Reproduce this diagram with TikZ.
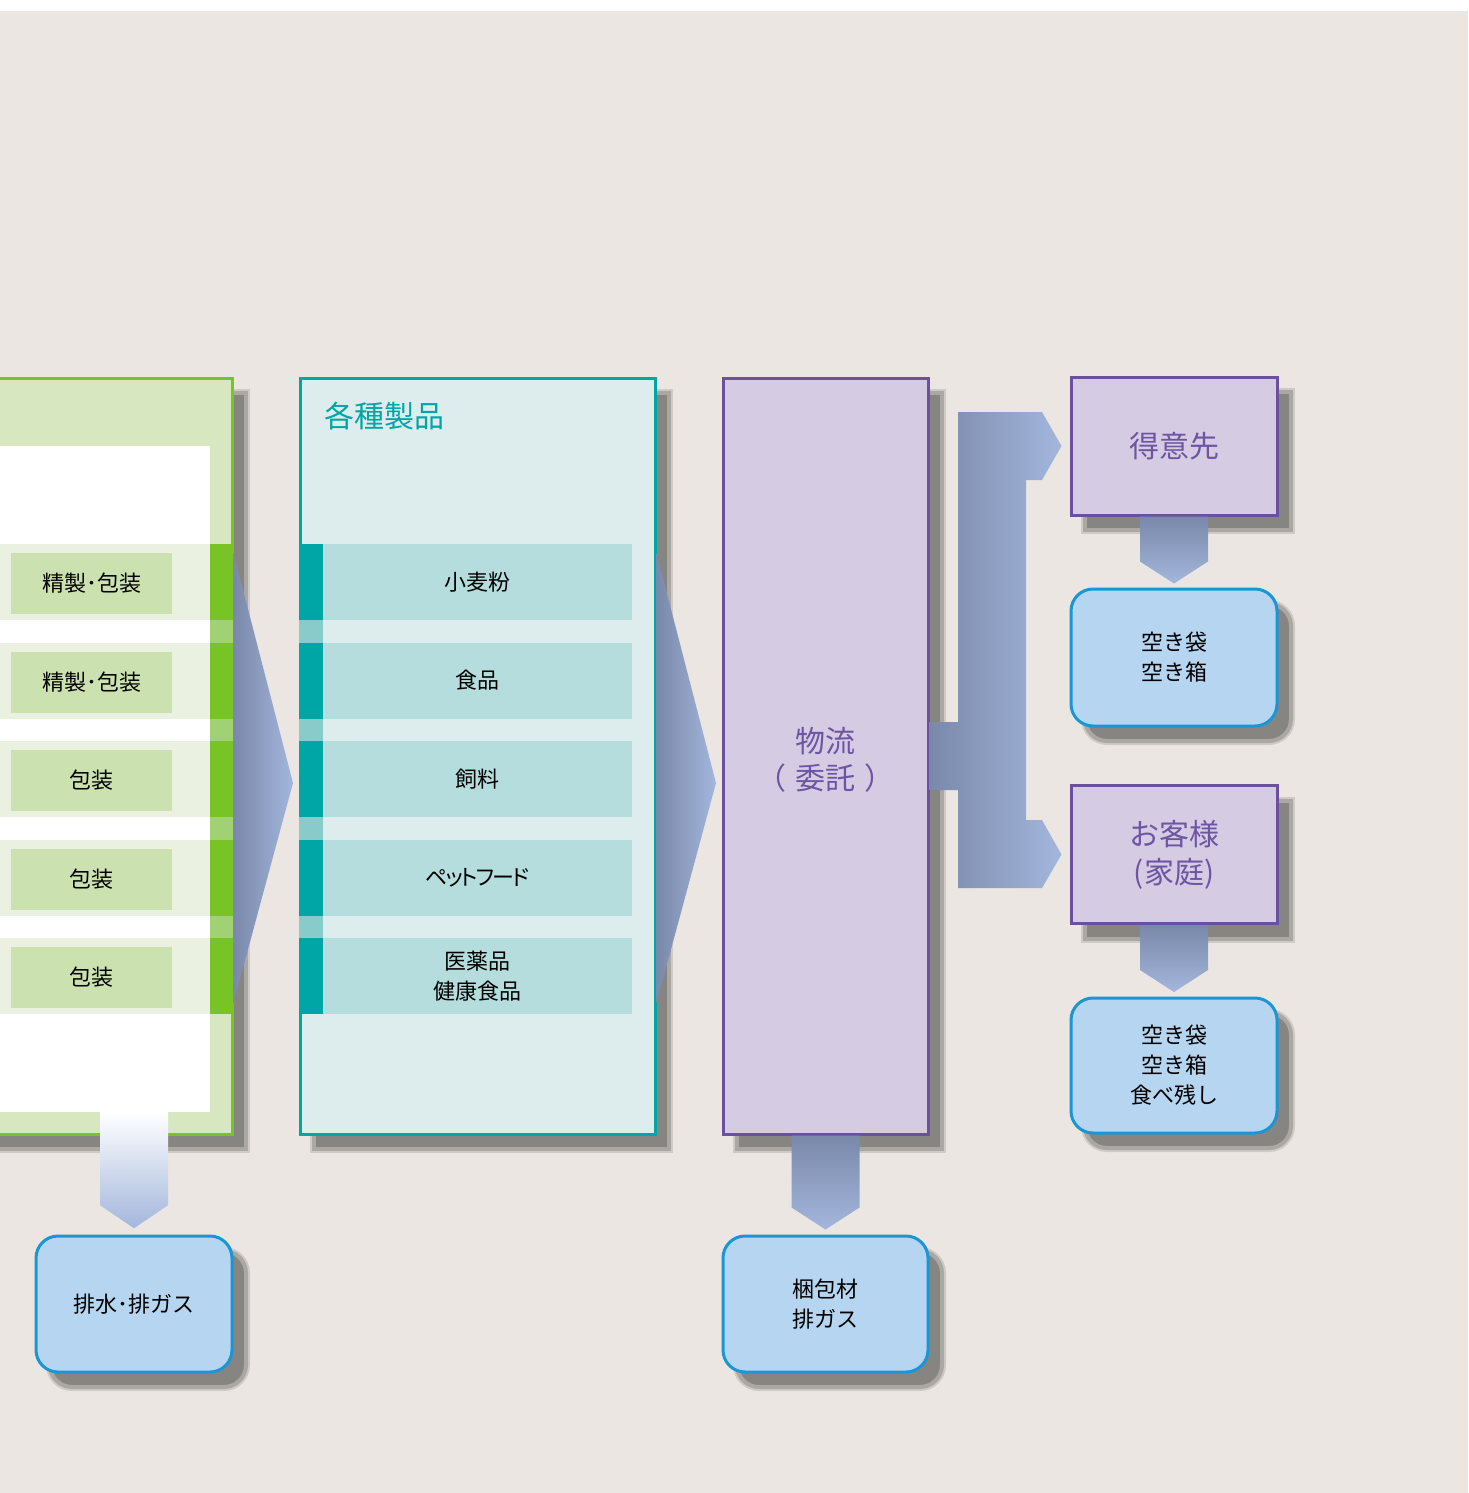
\documentclass[tikz,border=0pt]{standalone}
\usepackage{fontspec}
\setmainfont{Noto Sans CJK JP}
\usetikzlibrary{calc,shadows}
\definecolor{bgc}{HTML}{EBE6E2}
\definecolor{shadowgray}{HTML}{878581}
\definecolor{shadowsoft}{HTML}{ABA8A4}
\definecolor{gline}{HTML}{78C326}
\definecolor{gfill}{HTML}{D7E8C1}
\definecolor{gband}{HTML}{EBF1E1}
\definecolor{glabelfill}{HTML}{CBE1B0}
\definecolor{glight}{HTML}{A0D172}
\definecolor{tline}{HTML}{00A6A6}
\definecolor{tfill}{HTML}{DDECEC}
\definecolor{tbandfill}{HTML}{B5DDDD}
\definecolor{tlight}{HTML}{88CBCA}
\definecolor{purpleline}{HTML}{6B50A0}
\definecolor{purplefill}{HTML}{D5CBE2}
\definecolor{purpletext}{HTML}{6E55A3}
\definecolor{wasteline}{HTML}{1A96D6}
\definecolor{wastefill}{HTML}{B5D5F0}
\definecolor{arrowdark}{HTML}{7A89AA}
\definecolor{arrowlight}{HTML}{A3B6DC}

\begin{document}
\begin{tikzpicture}[x=1pt,y=-1pt,
  font=\fontsize{22}{30}\selectfont,
  boxshadow/.style={
    general shadow={shadow xshift=14pt,shadow yshift=-15pt,fill=shadowsoft,draw=shadowsoft!45!bgc,line width=8pt},
    general shadow={shadow xshift=14pt,shadow yshift=-15pt,fill=shadowgray,draw=shadowsoft,line width=4pt}},
  column/.style={rectangle,line width=3pt,inner sep=0pt,minimum height=756pt,boxshadow},
  purplebox/.style={rectangle,draw=purpleline,fill=purplefill,line width=3pt,text=purpletext,
    font=\fontsize{30}{38}\selectfont,align=center,minimum width=206pt,minimum height=138pt,boxshadow},
  wastebox/.style={rectangle,rounded corners=22pt,draw=wasteline,fill=wastefill,line width=3pt,
    align=center,minimum height=136pt,boxshadow},
  glabel/.style={fill=glabelfill,minimum width=161pt,minimum height=61pt,inner sep=0pt},
  tband/.style={fill=tbandfill,minimum width=309pt,minimum height=76pt,inner sep=0pt,align=center},
  chevron/.style={left color=arrowdark,right color=arrowlight},
  downflow/.style={top color=arrowdark,bottom color=arrowlight}
]
  \clip (0,0) rectangle (1468,1493);
  \fill[white] (0,0) rectangle (1468,1493);
  \fill[bgc] (0,11) rectangle (1468,1493);

  % production column (cut at the left edge)
  \node[column,draw=gline,fill=gfill,minimum width=292pt] (seizo) at (86,756) {};
  \node[fill=white,minimum width=270pt,minimum height=666pt,inner sep=0pt] (seizowhite) at (75,779) {};
  \foreach \i/\txt in {0/精製･包装,1/精製･包装,2/包装,3/包装,4/包装}{
    \fill[gband] (-60,544+98.5*\i) rectangle (210,620+98.5*\i);
    \fill[gline] (210,544+98.5*\i) rectangle (233,620+98.5*\i);
    \node[glabel] (proc\i) at (91.5,583.5+98.5*\i) {\txt};
  }
  \foreach \i in {0,...,3}
    \fill[glight] (210,620+98.5*\i) rectangle (233,642.5+98.5*\i);
  \path[downflow,top color=white] ($(seizowhite.south)+(25,0)$) -- ++(68,0) -- ++(0,93)
    -- ++(-34,23) -- ++(-34,-23) -- cycle;
  \path[chevron] (seizo.east |- 0,553) -- (293,783) -- (seizo.east |- 0,1003) -- cycle;

  % products
  \node[column,draw=tline,fill=tfill,minimum width=355pt] (seihin) at (477.5,756) {};
  \node[anchor=west,text=tline,font=\fontsize{30}{36}\selectfont,inner sep=0pt] (seihintitle)
    at (324,416) {各種製品};
  \foreach \i/\txt in {0/小麦粉,1/食品,2/飼料,3/{\addfontfeature{RawFeature=+palt,LetterSpace=-9}ペットフード},4/{医薬品\\健康食品}}{
    \fill[tline] (299,544+98.5*\i) rectangle (323,620+98.5*\i);
    \node[tband] (prod\i) at (477.5,582+98.5*\i) {\txt};
  }
  \foreach \i in {0,...,3}
    \fill[tlight] (299,620+98.5*\i) rectangle (323,642.5+98.5*\i);
  \path[chevron] (seihin.east |- 0,553) -- (716,783) -- (seihin.east |- 0,1003) -- cycle;

  % logistics and customers
  \node[column,draw=purpleline,fill=purplefill,minimum width=205pt] (butsuryu) at (825.5,756) {};
  \node[text=purpletext,font=\fontsize{30}{37}\selectfont,align=center] (butsuryutext)
    at (825.5,760) {物流\\（\hspace{9pt}委託\hspace{9pt}）};
  \node[purplebox] (tokui) at (1174,446) {得意先};
  \node[purplebox] (okyaku) at (1174,854.5) {お客様\\(家庭)};

  \node[wastebox,minimum width=196pt] (haisui) at (134,1304) {排水･排ガス};
  \node[wastebox,minimum width=205pt] (konpo) at (825.5,1304) {梱包材\\排ガス};
  \node[wastebox,minimum width=206pt,minimum height=137pt] (akibukuro) at (1174,657.5) {空き袋\\空き箱};
  \node[wastebox,minimum width=206pt,minimum height=135pt] (tabenokoshi) at (1174,1065.5)
    {空き袋\\空き箱\\食べ残し};

  \path[chevron] (butsuryu.east |- 0,722) -- (958,722) -- (958,412) -- (1042,412)
    -- ($(tokui.west)+(-8,0)$) -- (1042,480) -- (1026,480) -- (1026,820) -- (1042,820)
    -- ($(okyaku.west)+(-8,0)$) -- (1042,888) -- (958,888) -- (958,790)
    -- (butsuryu.east |- 0,790) -- cycle;
  \path[downflow] ($(tokui.south)+(-34,0)$) -- ++(68,0) -- ++(0,45) -- ++(-34,22) -- ++(-34,-22) -- cycle;
  \path[downflow] ($(okyaku.south)+(-34,0)$) -- ++(68,0) -- ++(0,45) -- ++(-34,22) -- ++(-34,-22) -- cycle;
  \path[downflow] ($(butsuryu.south)+(-34,0)$) -- ++(68,0) -- ++(0,72) -- ++(-34,22) -- ++(-34,-22) -- cycle;
\end{tikzpicture}
\end{document}
